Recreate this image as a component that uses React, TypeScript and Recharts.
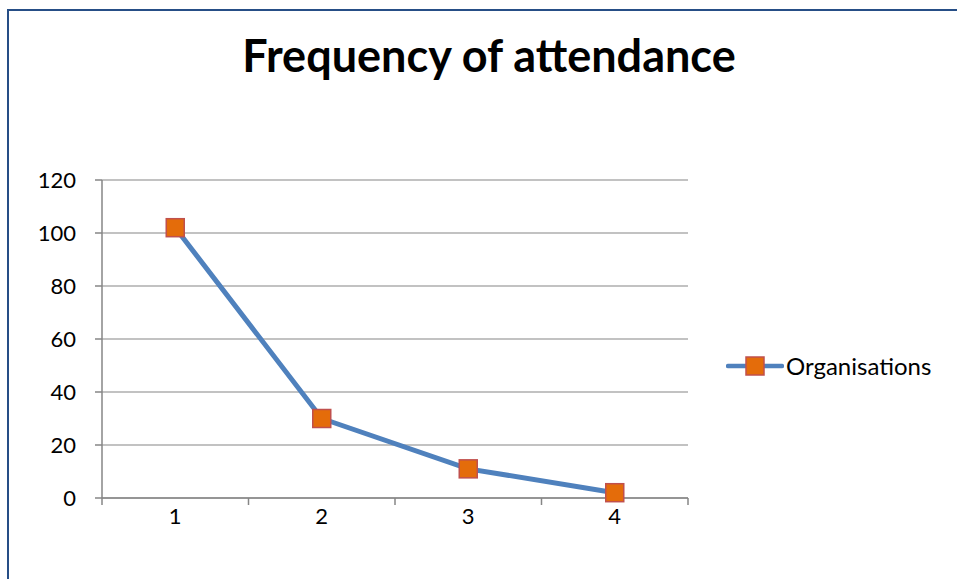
import { LineChart, Line, XAxis, YAxis, CartesianGrid, Legend } from "recharts";

const categories = [1, 2, 3, 4];
const organisations = [102, 30, 11, 2];
const yTicks = [0, 20, 40, 60, 80, 100, 120];
// integer ticks carry the labels, half ticks mark the category boundaries
const xTicks = [0.5, 1, 1.5, 2, 2.5, 3, 3.5, 4, 4.5];

const data = categories.map((c, i) => ({ cat: c, Organisations: organisations[i] }));

const FONT = "Lato, 'Open Sans', sans-serif";
const LINE = "#4F81BD";
const MARK_FILL = "#E46C0A";
const MARK_STROKE = "#C0504D";
const TICK_FONT = 22;

const SquareDot = (props: any) => {
  const { cx, cy } = props;
  if (cx == null || cy == null) return null;
  return (
    <rect
      x={cx - 9}
      y={cy - 9}
      width={18}
      height={18}
      fill={MARK_FILL}
      stroke={MARK_STROKE}
      strokeWidth={1.5}
    />
  );
};

const XTick = (props: any) => {
  const { x, y, payload } = props;
  const v = payload.value as number;
  if (Number.isInteger(v)) {
    return (
      <text x={x} y={y + 26} textAnchor="middle" fontSize={TICK_FONT} fontFamily={FONT} fill="#000">
        {v}
      </text>
    );
  }
  return <line x1={x} y1={y} x2={x} y2={y + 7} stroke="#868686" strokeWidth={1.5} />;
};

const LegendContent = () => (
  <div style={{ display: "flex", alignItems: "center", fontFamily: FONT, fontSize: 24 }}>
    <svg width={58} height={20}>
      <line x1={2} y1={10} x2={56} y2={10} stroke={LINE} strokeWidth={4.5} strokeLinecap="round" />
      <rect x={20} y={1} width={18} height={18} fill={MARK_FILL} stroke={MARK_STROKE} strokeWidth={1.5} />
    </svg>
    <span style={{ marginLeft: 2, color: "#000" }}>Organisations</span>
  </div>
);

export default function App() {
  return (
    <div style={{ position: "absolute", left: 0, top: 0, width: 957, height: 579, overflow: "hidden", background: "#fff" }}>
      <div
        style={{
          position: "absolute",
          left: 7,
          top: 9,
          width: 960,
          height: 580,
          borderTop: "2px solid #264E86",
          borderLeft: "2.5px solid #264E86",
        }}
      />
      <div
        style={{
          position: "absolute",
          left: 0,
          top: 28,
          width: 978,
          textAlign: "center",
          fontFamily: FONT,
          fontWeight: 700,
          fontSize: 45,
          color: "#000",
        }}
      >
        Frequency of attendance
      </div>
      <div style={{ position: "absolute", left: 0, top: 0 }}>
        <LineChart width={957} height={579} data={data} margin={{ top: 180, right: 269, bottom: 21, left: 0 }}>
          <CartesianGrid vertical={false} stroke="#868686" strokeWidth={1.2} />
          <XAxis
            dataKey="cat"
            type="number"
            domain={[0.5, 4.5]}
            ticks={xTicks}
            interval={0}
            tickSize={0}
            tickMargin={0}
            tickLine={false}
            tick={<XTick />}
            axisLine={{ stroke: "#868686", strokeWidth: 1.5 }}
            height={60}
          />
          <YAxis
            domain={[0, 120]}
            ticks={yTicks}
            width={102}
            tickSize={7}
            tickMargin={19}
            tickLine={{ stroke: "#868686", strokeWidth: 1.5 }}
            axisLine={{ stroke: "#868686", strokeWidth: 1.5 }}
            tick={{ fontSize: TICK_FONT, fontFamily: FONT, fill: "#000" }}
          />
          <Legend
            layout="horizontal"
            verticalAlign="middle"
            align="center"
            content={<LegendContent />}
            wrapperStyle={{ left: 726, top: 351, width: 231 }}
          />
          <Line
            type="linear"
            dataKey="Organisations"
            stroke={LINE}
            strokeWidth={5}
            dot={<SquareDot />}
            activeDot={false}
            isAnimationActive={false}
          />
        </LineChart>
      </div>
    </div>
  );
}
